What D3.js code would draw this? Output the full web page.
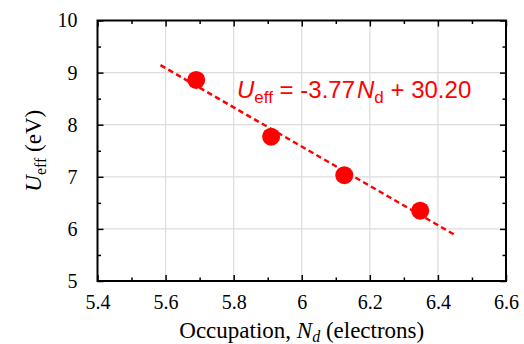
<!DOCTYPE html>
<html lang="en">
<head>
  <meta charset="UTF-8">
  <title>Ueff vs occupation</title>
  <script src="https://d3js.org/d3.v7.min.js"></script>
  <style>
    body { margin: 0; background: #fff; }
  </style>
</head>
<body>
  <svg width="524" height="344"></svg>

  <script>
    // Data
    const occupation = [5.69, 5.91, 6.125, 6.348];
    const ueff = [8.86, 7.77, 7.03, 6.35];
    const fitSlope = -3.77;
    const fitIntercept = 30.20;
    const fitRange = [5.585, 6.45];
    const xTicks = [5.4, 5.6, 5.8, 6, 6.2, 6.4, 6.6];
    const yTicks = [5, 6, 7, 8, 9, 10];

    const svg = d3.select("svg");
    const margin = {top: 20.5, right: 18, bottom: 63, left: 97.5};
    const width = 524, height = 344;
    const red = "#ff0000";
    const serif = "'Liberation Serif', 'Times New Roman', serif";

    const x = d3.scaleLinear().domain([5.4, 6.6]).range([margin.left, width - margin.right]);
    const y = d3.scaleLinear().domain([5, 10]).range([height - margin.bottom, margin.top]);

    // grid lines
    svg.append("g").selectAll("line")
      .data(xTicks.slice(1, -1))
      .enter().append("line")
      .attr("x1", d => x(d)).attr("x2", d => x(d))
      .attr("y1", y(5)).attr("y2", y(10))
      .attr("stroke", "#dcdcdc").attr("stroke-width", 1.2);
    svg.append("g").selectAll("line")
      .data(yTicks.slice(1, -1))
      .enter().append("line")
      .attr("x1", x(5.4)).attr("x2", x(6.6))
      .attr("y1", d => y(d)).attr("y2", d => y(d))
      .attr("stroke", "#dcdcdc").attr("stroke-width", 1.2);

    // axes with inward ticks on all four sides
    const xMinor = d3.range(5.5, 6.6, 0.2);
    const yMinor = d3.range(5.5, 10, 1);
    function addAxis(axis, transform) {
      const g = svg.append("g").attr("transform", transform).call(axis);
      g.selectAll(".domain").remove();
      g.selectAll("line").attr("stroke", "#000").attr("stroke-width", 1.5);
      g.selectAll("text")
        .style("font-family", serif)
        .style("font-size", "20px")
        .attr("fill", "#000");
      return g;
    }
    const fmt = d3.format("");

    addAxis(d3.axisBottom(x).tickValues(xTicks).tickSizeInner(-6).tickSizeOuter(0).tickPadding(14).tickFormat(fmt),
      `translate(0,${y(5)})`);
    addAxis(d3.axisBottom(x).tickValues(xMinor).tickSizeInner(-3.5).tickSizeOuter(0).tickFormat(""), `translate(0,${y(5)})`);
    addAxis(d3.axisTop(x).tickValues(xTicks).tickSizeInner(-6).tickSizeOuter(0).tickFormat(""), `translate(0,${y(10)})`);
    addAxis(d3.axisTop(x).tickValues(xMinor).tickSizeInner(-3.5).tickSizeOuter(0).tickFormat(""), `translate(0,${y(10)})`);

    addAxis(d3.axisLeft(y).tickValues(yTicks).tickSizeInner(-6).tickSizeOuter(0).tickPadding(20).tickFormat(fmt),
      `translate(${x(5.4)},0)`);
    addAxis(d3.axisLeft(y).tickValues(yMinor).tickSizeInner(-3.5).tickSizeOuter(0).tickFormat(""), `translate(${x(5.4)},0)`);
    addAxis(d3.axisRight(y).tickValues(yTicks).tickSizeInner(-6).tickSizeOuter(0).tickFormat(""), `translate(${x(6.6)},0)`);
    addAxis(d3.axisRight(y).tickValues(yMinor).tickSizeInner(-3.5).tickSizeOuter(0).tickFormat(""), `translate(${x(6.6)},0)`);

    // frame
    svg.append("rect")
      .attr("x", x(5.4)).attr("y", y(10))
      .attr("width", x(6.6) - x(5.4)).attr("height", y(5) - y(10))
      .attr("fill", "none").attr("stroke", "#000").attr("stroke-width", 2);

    // fit line
    svg.append("line")
      .attr("x1", x(fitRange[0])).attr("y1", y(fitSlope * fitRange[0] + fitIntercept))
      .attr("x2", x(fitRange[1])).attr("y2", y(fitSlope * fitRange[1] + fitIntercept))
      .attr("stroke", red).attr("stroke-width", 2.5).attr("stroke-dasharray", "5.5,3.5");

    // points
    svg.selectAll("circle.pt")
      .data(occupation.map((o, i) => [o, ueff[i]]))
      .enter().append("circle")
      .attr("class", "pt")
      .attr("cx", d => x(d[0])).attr("cy", d => y(d[1]))
      .attr("r", 9).attr("fill", red);

    // equation
    const eq = svg.append("text")
      .attr("x", 237).attr("y", 98)
      .attr("font-family", "'Liberation Sans', Arial, sans-serif")
      .attr("font-size", 24).attr("fill", red);
    eq.append("tspan").attr("font-style", "italic").text("U");
    eq.append("tspan").attr("font-size", 17).attr("dy", 5).text("eff");
    eq.append("tspan").attr("dy", -5).text(" = -3.77");
    eq.append("tspan").attr("font-style", "italic").attr("dx", 2).text("N");
    eq.append("tspan").attr("font-size", 17).attr("dy", 5).text("d");
    eq.append("tspan").attr("dy", -5).text(" + 30.20");

    // axis titles
    const xt = svg.append("text")
      .attr("x", (x(5.4) + x(6.6)) / 2).attr("y", 338)
      .attr("text-anchor", "middle")
      .attr("font-family", serif).attr("font-size", 23);
    xt.append("tspan").text("Occupation, ");
    xt.append("tspan").attr("font-style", "italic").text("N");
    xt.append("tspan").attr("font-style", "italic").attr("font-size", 16).attr("dy", 4).text("d");
    xt.append("tspan").attr("dy", -4).text(" (electrons)");

    const yt = svg.append("text")
      .attr("transform", `translate(41,${(y(5) + y(10)) / 2}) rotate(-90)`)
      .attr("text-anchor", "middle")
      .attr("font-family", serif).attr("font-size", 23);
    yt.append("tspan").attr("font-style", "italic").text("U");
    yt.append("tspan").attr("font-size", 16).attr("dy", 5).text("eff");
    yt.append("tspan").attr("dy", -5).text(" (eV)");
  </script>
</body>
</html>
